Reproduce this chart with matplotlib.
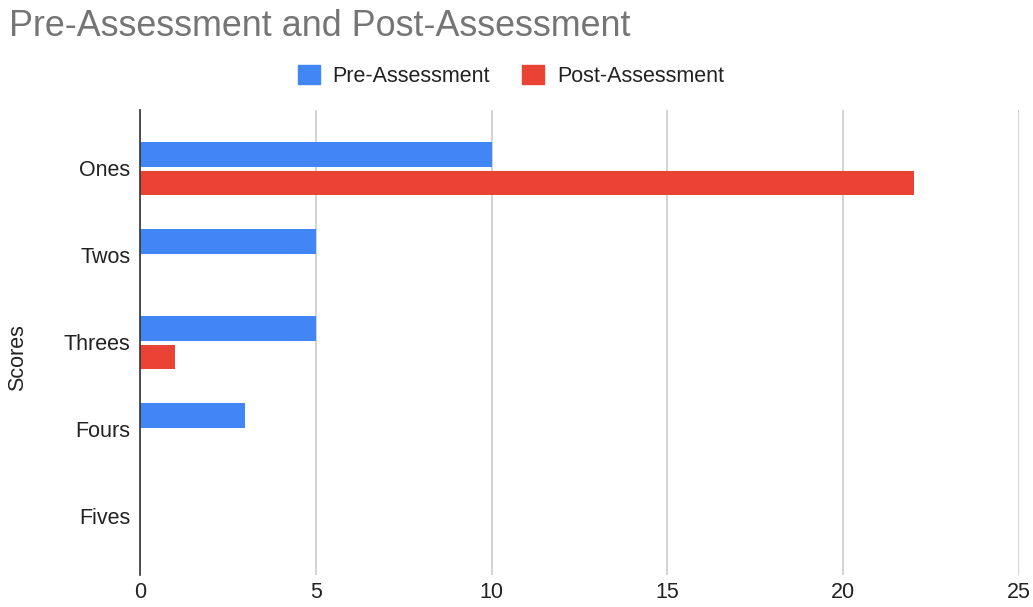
import numpy as np
import matplotlib.pyplot as plt
from matplotlib.patches import Patch

plt.rcParams['font.family'] = ['Liberation Sans', 'DejaVu Sans']

categories = ['Ones', 'Twos', 'Threes', 'Fours', 'Fives']
pre = [10, 5, 5, 3, 0]
post = [22, 0, 1, 0, 0]
x_ticks = [0, 5, 10, 15, 20, 25]

blue = '#4285F4'
red = '#EA4335'

fig = plt.figure(figsize=(10.33, 6.07), dpi=100)
ax = fig.add_axes([0.1355, 0.0527, 0.851, 0.7661])

y = np.arange(len(categories))
h = 0.28
ax.barh(y - 0.157, pre, height=h, color=blue, label='Pre-Assessment')
ax.barh(y + 0.175, post, height=h, color=red, label='Post-Assessment')

ax.set_ylim(4.678, -0.667)
ax.set_xlim(0, 25)
ax.set_xticks(x_ticks)
ax.set_yticks(y)
ax.set_yticklabels(categories)
ax.tick_params(axis='both', length=0, labelsize=15.5, colors='#222222')
ax.tick_params(axis='y', pad=7)
ax.tick_params(axis='x', pad=5)
ax.xaxis.grid(True, color='#cccccc', linewidth=1.2)
ax.set_axisbelow(True)
for s in ['top', 'right', 'bottom']:
    ax.spines[s].set_visible(False)
ax.spines['left'].set_color('#333333')
ax.spines['left'].set_linewidth(1.2)
ax.spines['left'].set_zorder(5)

fig.text(18 / 1033, 1 - 358 / 607, 'Scores', rotation=90, ha='center', va='center',
         fontsize=15.5, color='#222222')

fig.text(9 / 1033, 1 - 27 / 607, 'Pre-Assessment and Post-Assessment',
         ha='left', va='center', fontsize=25.8, color='#757575')

handles = [Patch(color=blue, label='Pre-Assessment'), Patch(color=red, label='Post-Assessment')]
fig.legend(handles=handles, loc='center', bbox_to_anchor=(511 / 1033, 1 - 76 / 607),
           ncol=2, frameon=False, fontsize=15.5, handlelength=1.0, handleheight=1.0,
           handletextpad=0.6, columnspacing=1.5, labelcolor='#222222')

fig.savefig('out.png', dpi=100)
